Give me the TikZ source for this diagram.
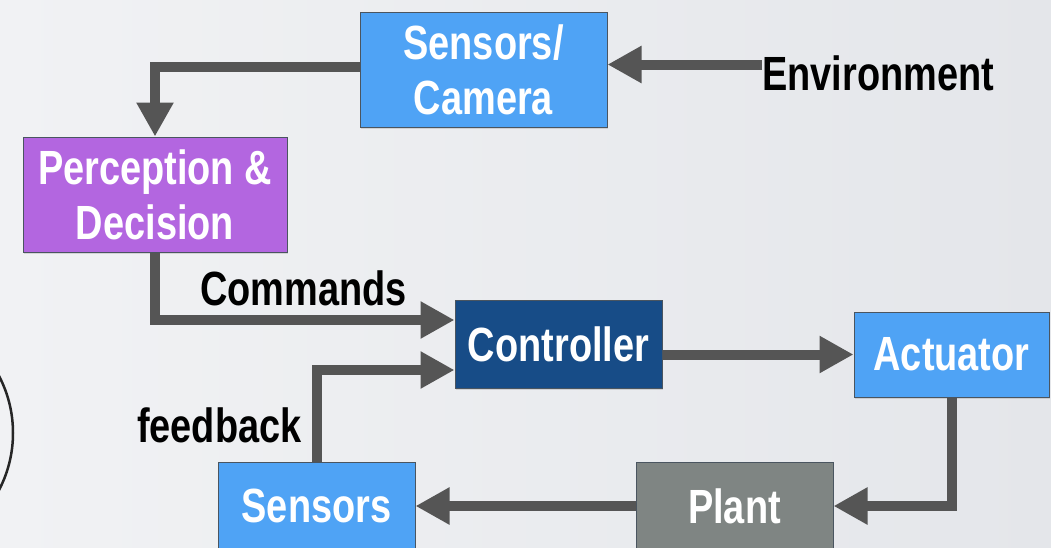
\documentclass[tikz,border=0pt]{standalone}
\usepackage{fontspec}
\newfontfamily\blockfont{Liberation Sans}[FakeStretch=0.79]
\usetikzlibrary{arrows.meta,shadows}

\definecolor{skyblue}{HTML}{4FA3F5}
\definecolor{violetbox}{HTML}{B366E0}
\definecolor{navybox}{HTML}{174C87}
\definecolor{plantgrey}{HTML}{7F8583}
\definecolor{wiregrey}{HTML}{555555}
\definecolor{edgegrey}{HTML}{4A5560}
\definecolor{bgleft}{HTML}{F1F2F4}
\definecolor{bgright}{HTML}{E4E6EA}

\tikzset{
  blockbox/.style={rectangle, draw=edgegrey, line width=1pt, inner sep=0pt,
    text=white, align=center,
    font=\blockfont\bfseries\fontsize{48}{55}\selectfont,
    drop shadow={opacity=0.25, shadow xshift=1pt, shadow yshift=-1.5pt}},
  tag/.style={inner sep=0pt, text=black,
    font=\blockfont\bfseries\fontsize{48}{55}\selectfont},
  conn/.style={draw=wiregrey, line width=10pt,
    -{Triangle[length=34pt,width=35pt]}}
}

\begin{document}
\begin{tikzpicture}[x=1pt,y=-1pt]
  % canvas
  \useasboundingbox (0,0) rectangle (1051,547);
  \clip (0,0) rectangle (1051,547);
  \shade[left color=bgleft, right color=bgright] (0,0) rectangle (1051,547);

  % partial circle at the left margin
  \draw[line width=2.5pt, black!85] (-110,433) circle (123);

  % blocks
  \node[blockbox, fill=skyblue, minimum width=247pt, minimum height=115pt]
    (cam) at (483.5,69.5) {Sensors/\\Camera};
  \node[blockbox, fill=violetbox, minimum width=264pt, minimum height=115pt]
    (perc) at (155,194.5) {Perception \&\\Decision};
  \node[blockbox, fill=navybox, minimum width=207pt, minimum height=88pt]
    (ctrl) at (558.5,344) {Controller};
  \node[blockbox, fill=skyblue, minimum width=195pt, minimum height=85pt]
    (act) at (951.5,354.5) {Actuator};
  \node[blockbox, fill=skyblue, minimum width=197pt, minimum height=88pt]
    (sens) at (316.5,506) {Sensors};
  \node[blockbox, fill=plantgrey, minimum width=197pt, minimum height=88pt]
    (plant) at (734.5,506) {Plant};

  % labels
  \node[tag, anchor=base west] (env) at (762,90) {Environment};
  \node[tag, anchor=base west] (cmd) at (200,305) {Commands};
  \node[tag, anchor=base west] (fb) at (137,442) {feedback};

  % connectors
  \draw[conn] ([yshift=5pt]cam.east -| env.west) -- ([yshift=5pt]cam.east);
  \draw[conn] ([yshift=2.5pt]cam.west) -| (perc.north);
  \draw[conn] (perc.south) |- ([yshift=24pt]ctrl.west);
  \draw[conn] (sens.north) |- ([yshift=-26pt]ctrl.west);
  \draw[conn] (ctrl.east |- act.west) -- (act.west);
  \draw[conn] (act.south) |- (plant.east);
  \draw[conn] (plant.west) -- (sens.east);
\end{tikzpicture}
\end{document}
